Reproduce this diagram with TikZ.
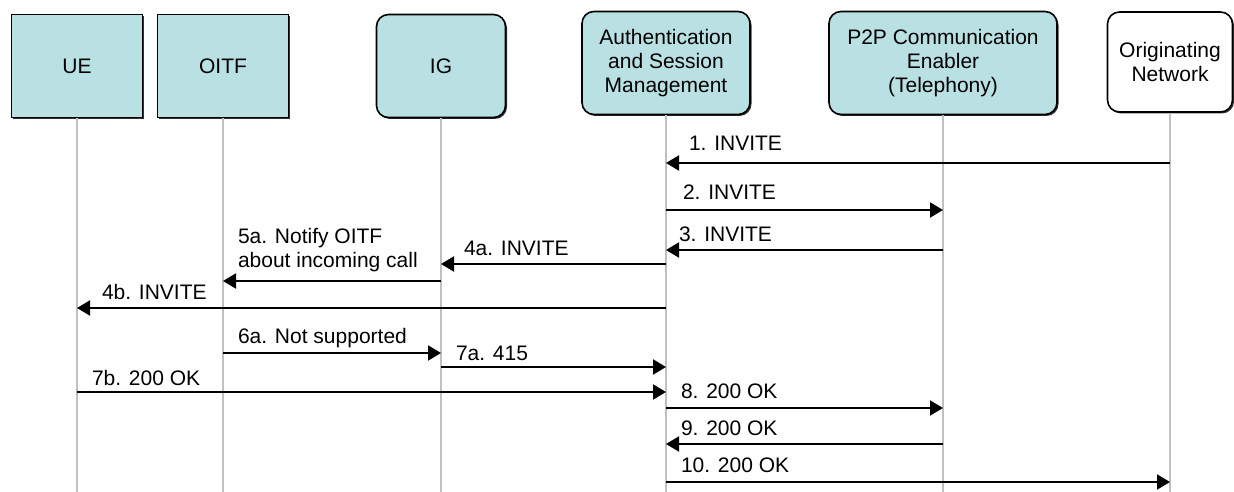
\documentclass[tikz,border=0pt]{standalone}
\usepackage{fontspec}
\setmainfont{Liberation Sans}
\usetikzlibrary{arrows.meta, shadows}

\definecolor{boxfill}{RGB}{185,224,227}
\definecolor{lifegray}{RGB}{192,192,192}

\begin{document}
\begin{tikzpicture}[
        x=1pt, y=-1pt,
        every node/.style={font=\fontsize{21}{24}\selectfont},
        entity/.style={draw, line width=1.6pt, fill=boxfill, minimum height=103pt,
            align=center, inner sep=2pt,
            drop shadow={shadow xshift=1.5pt, shadow yshift=-1.5pt, fill=black, opacity=0.8}},
        roundbox/.style={entity, rounded corners=12pt},
        lifeline/.style={lifegray, line width=2.5pt},
        msg/.style={-{Triangle[length=13pt,width=15pt]}, line width=2pt},
        lbl/.style={anchor=base west, align=left, inner sep=0pt, xshift=14pt, yshift=9pt}
    ]

    \useasboundingbox (0,0) rectangle (1234,492);

    % the parties
    \node[entity, minimum width=131pt] (UE) at (77,66) {UE};
    \node[entity, minimum width=131pt] (OITF) at (223,66) {OITF};
    \node[roundbox, minimum width=129pt] (IG) at (441,66) {IG};
    \node[roundbox, minimum width=168pt] (ASM) at (666,63) {Authentication\\and Session\\Management};
    \node[roundbox, minimum width=228pt] (P2P) at (943,63) {P2P Communication\\Enabler\\(Telephony)};
    \node[roundbox, fill=white, minimum width=125pt, minimum height=100pt] (ORIG) at (1170,62) {Originating\\Network};

    \foreach \n in {UE, OITF, IG, ASM, P2P, ORIG}
        \draw[lifeline] (\n) -- (\n |- 0,492);

    % messages
    \draw[msg] (ORIG |- 0,163) -- (ASM |- 0,163) node[lbl, xshift=8pt, yshift=4pt] (t1) {1. INVITE};
    \draw[msg] (ASM |- 0,210) node[lbl, xshift=2pt, yshift=2pt] (t2) {2. INVITE} -- (P2P |- 0,210);
    \draw[msg] (P2P |- 0,250) -- (ASM |- 0,250) node[lbl, xshift=-2pt] (t3) {3. INVITE};
    \draw[msg] (ASM |- 0,264) -- (IG |- 0,264) node[lbl, xshift=8pt] (t4a) {4a. INVITE};
    \draw[msg] (IG |- 0,281) -- (OITF |- 0,281) node[lbl, anchor=south west, yshift=-1pt] (t5a) {5a. Notify OITF\\about incoming call};
    \draw[msg] (ASM |- 0,308) -- (UE |- 0,308) node[lbl, xshift=10pt] (t4b) {4b. INVITE};
    \draw[msg] (OITF |- 0,353) node[lbl, yshift=1pt] (t6a) {6a. Not supported} -- (IG |- 0,353);
    \draw[msg] (IG |- 0,367) node[lbl, yshift=-2pt] (t7a) {7a. 415} -- (ASM |- 0,367);
    \draw[msg] (UE |- 0,392) node[lbl, yshift=-2pt] (t7b) {7b. 200 OK} -- (ASM |- 0,392);
    \draw[msg] (ASM |- 0,408) node[lbl, yshift=1pt] (t8) {8. 200 OK} -- (P2P |- 0,408);
    \draw[msg] (P2P |- 0,444) -- (ASM |- 0,444) node[lbl] (t9) {9. 200 OK};
    \draw[msg] (ASM |- 0,482) node[lbl, yshift=1pt] (t10) {10. 200 OK} -- (ORIG |- 0,482);
\end{tikzpicture}
\end{document}
